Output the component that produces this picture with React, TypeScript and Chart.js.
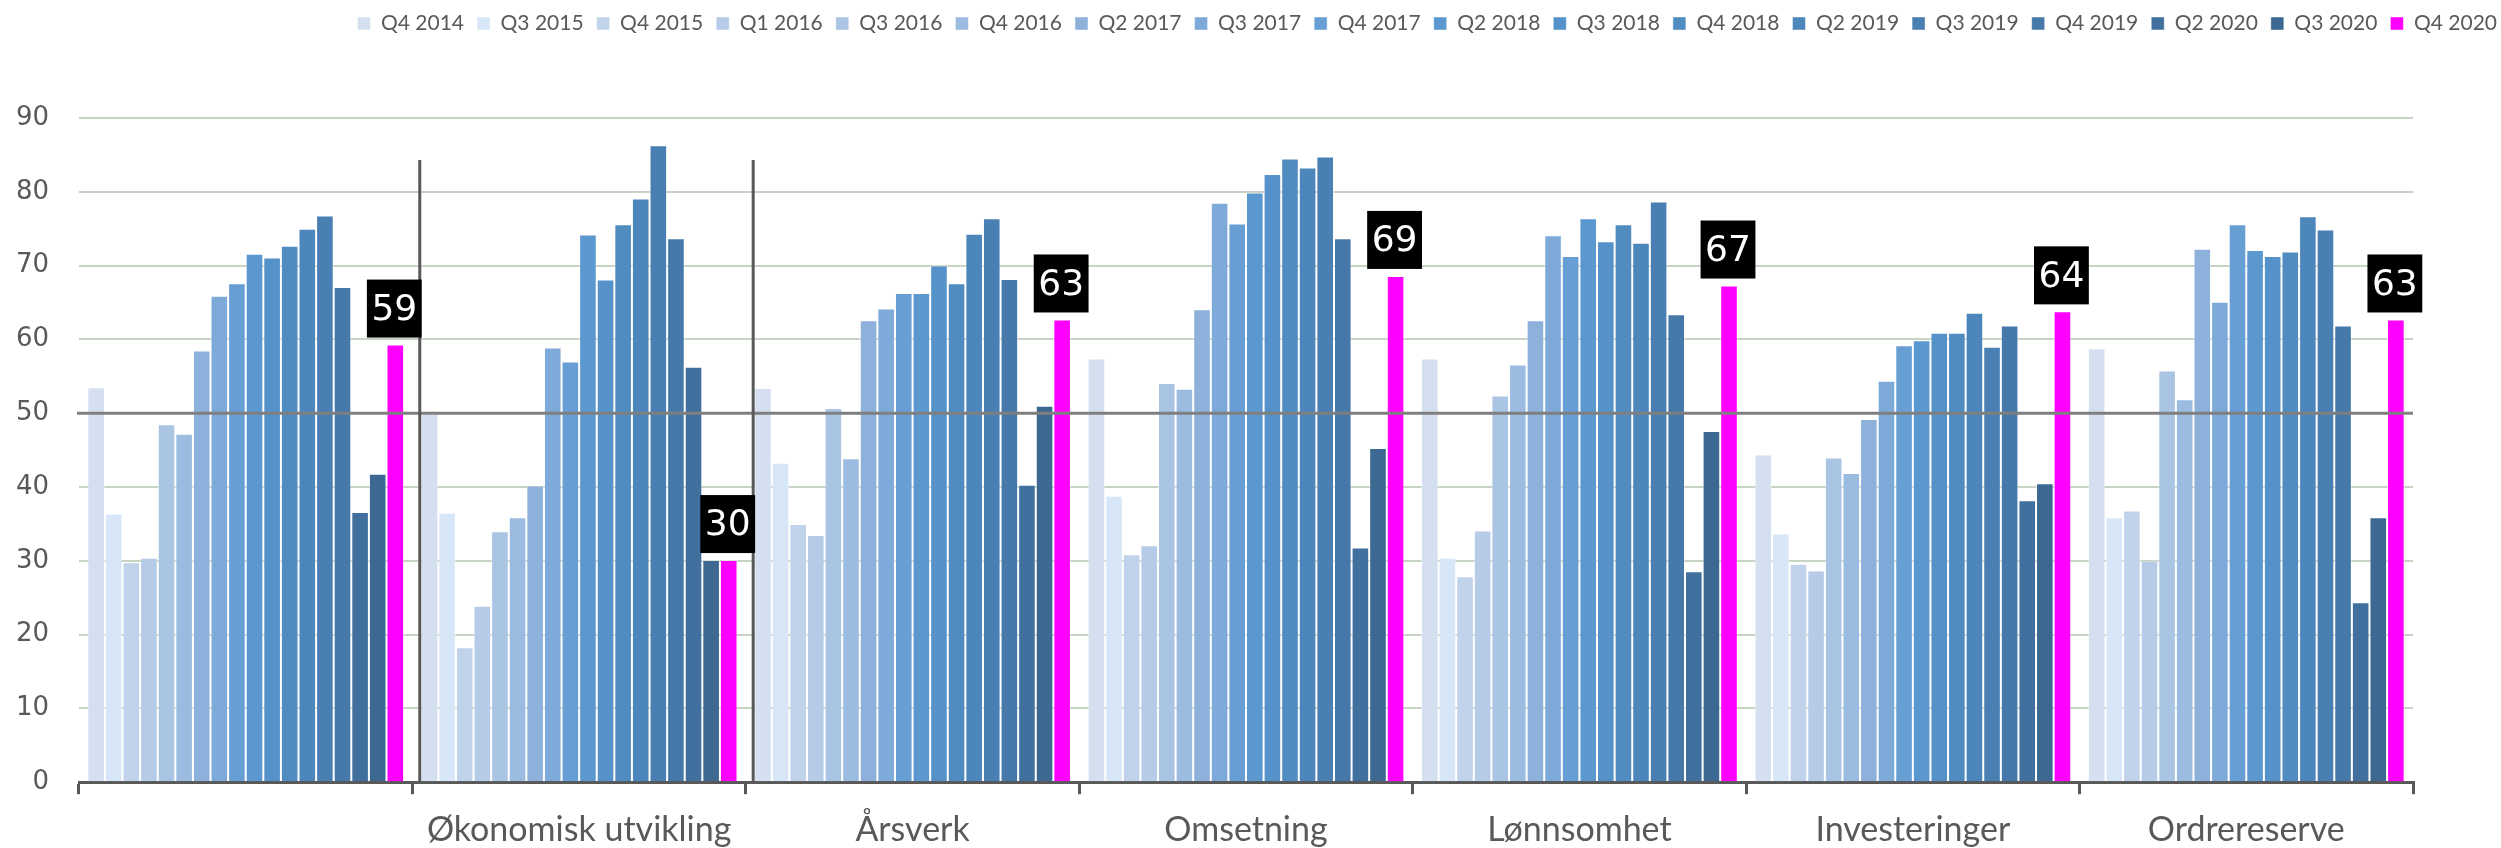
import React, { useEffect, useRef } from "react";
import { Chart, registerables } from "chart.js";

Chart.register(...registerables);

// ---- Data ----
const categories = ["", "Økonomisk utvikling", "Årsverk", "Omsetning", "Lønnsomhet", "Investeringer", "Ordrereserve"];

const seriesLabels = [
  "Q4 2014", "Q3 2015", "Q4 2015", "Q1 2016", "Q3 2016", "Q4 2016", "Q2 2017", "Q3 2017", "Q4 2017",
  "Q2 2018", "Q3 2018", "Q4 2018", "Q2 2019", "Q3 2019", "Q4 2019", "Q2 2020", "Q3 2020", "Q4 2020",
];

const q4_2014 = [53.5, 49.9, 53.4, 57.4, 57.4, 44.4, 58.8];
const q3_2015 = [36.4, 36.5, 43.3, 38.8, 30.4, 33.7, 35.9];
const q4_2015 = [29.8, 18.3, 35.0, 30.9, 27.9, 29.6, 36.8];
const q1_2016 = [30.4, 23.9, 33.5, 32.1, 34.1, 28.7, 30.0];
const q3_2016 = [48.5, 34.0, 50.7, 54.1, 52.4, 44.0, 55.8];
const q4_2016 = [47.2, 35.9, 43.9, 53.3, 56.6, 41.9, 51.9];
const q2_2017 = [58.5, 40.2, 62.6, 64.1, 62.6, 49.2, 72.3];
const q3_2017 = [65.9, 58.9, 64.2, 78.5, 74.1, 54.4, 65.1];
const q4_2017 = [67.6, 57.0, 66.3, 75.7, 71.3, 59.2, 75.6];
const q2_2018 = [71.6, 74.2, 66.3, 79.9, 76.4, 59.9, 72.1];
const q3_2018 = [71.1, 68.1, 70.0, 82.4, 73.3, 60.9, 71.3];
const q4_2018 = [72.7, 75.6, 67.6, 84.5, 75.6, 60.9, 71.9];
const q2_2019 = [75.0, 79.1, 74.3, 83.3, 73.1, 63.6, 76.7];
const q3_2019 = [76.8, 86.3, 76.4, 84.8, 78.7, 59.0, 74.9];
const q4_2019 = [67.1, 73.7, 68.2, 73.7, 63.4, 61.9, 61.9];
const q2_2020 = [36.6, 56.3, 40.3, 31.8, 28.6, 38.2, 24.4];
const q3_2020 = [41.8, 30.1, 51.0, 45.3, 47.6, 40.5, 35.9];
const q4_2020 = [59.3, 30.1, 62.7, 68.6, 67.3, 63.8, 62.7];

const seriesValues = [
  q4_2014, q3_2015, q4_2015, q1_2016, q3_2016, q4_2016, q2_2017, q3_2017, q4_2017,
  q2_2018, q3_2018, q4_2018, q2_2019, q3_2019, q4_2019, q2_2020, q3_2020, q4_2020,
];

const seriesColors = [
  "#d4e0f0", "#d8e7f8", "#c0d3ea", "#b5cbe7", "#aac4e3", "#9cbbe1", "#8db1db", "#7eaad9", "#679fd5",
  "#5b98d0", "#5592c9", "#518cc1", "#4d86ba", "#497fb2", "#4679a9", "#41709e", "#3c6891", "#ff00ff",
];

const yMin = 0;
const yMax = 90;
const yStep = 10;
const referenceValue = 50;
const separatorBeforeCategories = [1, 2];
const separatorTopValue = 84.3;

const annotationsPlugin = {
  id: "annotations",
  afterDatasetsDraw(chart: any) {
    const { ctx, chartArea, scales } = chart;
    const y = scales.y;
    ctx.save();

    // reference line at 50
    const yr = y.getPixelForValue(referenceValue);
    ctx.strokeStyle = "#7f7f7f";
    ctx.lineWidth = 3;
    ctx.beginPath();
    ctx.moveTo(chartArea.left - 2, yr);
    ctx.lineTo(chartArea.right, yr);
    ctx.stroke();

    // separators before some groups
    const meta0 = chart.getDatasetMeta(0);
    ctx.strokeStyle = "#595959";
    ctx.lineWidth = 3;
    separatorBeforeCategories.forEach((ci) => {
      const bar = meta0.data[ci];
      if (!bar) return;
      const x = bar.x - bar.width / 2 - 1;
      ctx.beginPath();
      ctx.moveTo(x, y.getPixelForValue(separatorTopValue));
      ctx.lineTo(x, y.getPixelForValue(yMin));
      ctx.stroke();
    });

    // data labels for the last series
    const lastIdx = chart.data.datasets.length - 1;
    const meta = chart.getDatasetMeta(lastIdx);
    const vals = chart.data.datasets[lastIdx].data as number[];
    ctx.font = '36px "DejaVu Sans", sans-serif';
    ctx.textAlign = "center";
    ctx.textBaseline = "middle";
    meta.data.forEach((bar: any, i: number) => {
      const text = String(Math.round(vals[i]));
      const tw = ctx.measureText(text).width;
      const bw = tw + 9;
      const bh = 58;
      const bottom = bar.y - 7;
      ctx.fillStyle = "#000000";
      ctx.fillRect(bar.x - bw / 2 - 1, bottom - bh, bw, bh);
      ctx.fillStyle = "#ffffff";
      ctx.fillText(text, bar.x - 1, bottom - bh / 2 + 2);
    });
    ctx.restore();
  },
};

export default function App() {
  const ref = useRef<HTMLCanvasElement>(null);

  useEffect(() => {
    const datasets = seriesLabels.map((label, i) => ({
      label,
      data: seriesValues[i],
      backgroundColor: seriesColors[i],
      borderColor: "rgba(255,255,255,0.45)",
      borderWidth: 1,
      borderSkipped: "bottom" as const,
      categoryPercentage: 0.95,
      barPercentage: 1.0,
    }));

    const chart = new Chart(ref.current as HTMLCanvasElement, {
      type: "bar",
      data: { labels: categories, datasets },
      plugins: [annotationsPlugin],
      options: {
        animation: false,
        responsive: true,
        maintainAspectRatio: false,
        devicePixelRatio: 1,
        layout: { padding: 0 },
        plugins: {
          tooltip: { enabled: false },
          legend: {
            position: "top",
            align: "end",
            labels: {
              color: "#595959",
              font: { family: "Lato, 'Liberation Sans', sans-serif", size: 21 },
              boxWidth: 13,
              boxHeight: 13,
              padding: 13,
            },
          },
        },
        scales: {
          x: {
            position: "bottom",
            grid: {
              display: true,
              drawOnChartArea: false,
              drawTicks: true,
              tickLength: 12,
              offset: true,
              color: "#595959",
              lineWidth: 3,
            },
            border: { display: true, color: "#595959", width: 3 },
            ticks: {
              color: "#595959",
              font: { family: "Lato, 'Liberation Sans', sans-serif", size: 34 },
              padding: 15,
              maxRotation: 0,
              autoSkip: false,
            },
          },
          y: {
            position: "left",
            min: yMin,
            max: yMax,
            grid: { color: "#c8d4c3", lineWidth: 2, drawTicks: false },
            border: { display: false },
            ticks: {
              stepSize: yStep,
              color: "#595959",
              font: { family: "'DejaVu Sans', sans-serif", size: 26 },
              padding: 30,
            },
            afterFit: (s: any) => {
              s.width = 79;
            },
          },
          yRight: {
            type: "linear",
            position: "right",
            display: true,
            grid: { display: false },
            border: { display: false },
            ticks: { display: false },
            afterFit: (s: any) => {
              s.width = 97;
            },
          },
          xTop: {
            type: "linear",
            position: "top",
            display: true,
            grid: { display: false },
            border: { display: false },
            ticks: { display: false },
            afterFit: (s: any) => {
              s.height = 74;
            },
          },
        },
      },
    } as any);

    return () => chart.destroy();
  }, []);

  return (
    <div
      style={{
        position: "absolute",
        left: 0,
        top: 0,
        width: 2501,
        height: 848,
        overflow: "hidden",
        background: "#ffffff",
      }}
    >
      <div style={{ position: "absolute", left: 0, top: 0, width: 2510, height: 865 }}>
        <canvas ref={ref} />
      </div>
    </div>
  );
}
